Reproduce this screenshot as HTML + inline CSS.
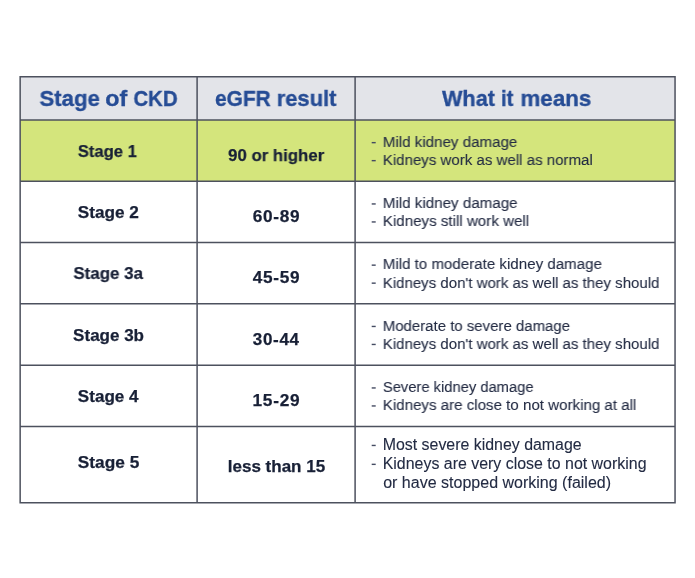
<!DOCTYPE html>
<html>
<head>
<meta charset="utf-8">
<title>Stages of CKD</title>
<style>
html,body{margin:0;padding:0;background:#fff;}
body{width:695px;height:578px;position:relative;overflow:hidden;font-family:"Liberation Sans",sans-serif;}
.t{position:absolute;}
.t{left:0;top:0;white-space:nowrap;line-height:1;transform-origin:0 0;will-change:transform;}
.h{font-size:22.6px;font-weight:bold;color:#264c95;-webkit-text-stroke:0.35px #264c95;}
.b{font-size:17px;font-weight:bold;color:#182036;-webkit-text-stroke:0.25px #182036;}
.r{font-size:15.2px;font-weight:normal;color:#232b43;-webkit-text-stroke:0.1px #232b43;}
.q{font-size:15.8px;font-weight:normal;color:#232b43;-webkit-text-stroke:0.1px #232b43;}
</style>
</head>
<body>
<svg width="695" height="578" viewBox="0 0 695 578" style="position:absolute;left:0;top:0;">
<rect x="20.15" y="76.70" width="654.90" height="43.30" fill="#e3e4e9"/>
<rect x="20.15" y="120.00" width="654.90" height="61.30" fill="#d4e57c"/>
<path d="M19.40 76.70H675.80M19.40 120.00H675.80M19.40 181.30H675.80M19.40 242.50H675.80M19.40 303.80H675.80M19.40 365.30H675.80M19.40 426.50H675.80M19.40 502.70H675.80M20.15 75.95V503.45M197.10 75.95V503.45M355.10 75.95V503.45M675.05 75.95V503.45" fill="none" stroke="#4d515e" stroke-width="1.5"/>
<rect x="371.70" y="141.95" width="4.00" height="1.4" fill="#444b62"/>
<rect x="371.70" y="159.95" width="4.00" height="1.4" fill="#444b62"/>
<rect x="371.70" y="203.25" width="4.00" height="1.4" fill="#444b62"/>
<rect x="371.70" y="221.25" width="4.00" height="1.4" fill="#444b62"/>
<rect x="371.70" y="264.45" width="4.00" height="1.4" fill="#444b62"/>
<rect x="371.70" y="282.45" width="4.00" height="1.4" fill="#444b62"/>
<rect x="371.70" y="325.75" width="4.00" height="1.4" fill="#444b62"/>
<rect x="371.70" y="343.75" width="4.00" height="1.4" fill="#444b62"/>
<rect x="371.70" y="387.25" width="4.00" height="1.4" fill="#444b62"/>
<rect x="371.70" y="405.25" width="4.00" height="1.4" fill="#444b62"/>
<rect x="371.70" y="444.75" width="4.00" height="1.4" fill="#444b62"/>
<rect x="371.70" y="463.65" width="4.00" height="1.4" fill="#444b62"/>
</svg>
<div class="t h" style="transform:translate(39.50px,88px) scaleX(0.9803);">Stage</div>
<div class="t h" style="transform:translate(105.28px,88px) scaleX(1.0296);">of</div>
<div class="t h" style="transform:translate(133.45px,88px) scaleX(0.9006);">CKD</div>
<div class="t h" style="transform:translate(215.08px,88px) scaleX(0.9216);">eGFR</div>
<div class="t h" style="transform:translate(276.80px,88px) scaleX(0.9680);">result</div>
<div class="t h" style="transform:translate(442.06px,88px) scaleX(0.9565);">What</div>
<div class="t h" style="transform:translate(501.04px,88px) scaleX(0.8924);">it</div>
<div class="t h" style="transform:translate(520.47px,88px) scaleX(0.9890);">means</div>
<div class="t b" style="transform:translate(77.83px,143px) scaleX(0.9759);">Stage 1</div>
<div class="t b" style="transform:translate(77.81px,204px) scaleX(1.0104);">Stage 2</div>
<div class="t b" style="transform:translate(73.42px,265px) scaleX(0.9951);">Stage 3a</div>
<div class="t b" style="transform:translate(73.12px,327px) scaleX(1.0005);">Stage 3b</div>
<div class="t b" style="transform:translate(77.81px,388px) scaleX(1.0053);">Stage 4</div>
<div class="t b" style="transform:translate(77.81px,454px) scaleX(1.0161);">Stage 5</div>
<div class="t b" style="transform:translate(228.07px,147px) scaleX(0.9881);">90 or higher</div>
<div class="t b" style="transform:translate(252.67px,208px) scaleX(1.0138);letter-spacing:0.7px;">60-89</div>
<div class="t b" style="transform:translate(252.74px,269px) scaleX(1.0123);letter-spacing:0.7px;">45-59</div>
<div class="t b" style="transform:translate(252.77px,331px) scaleX(1.0008);letter-spacing:0.7px;">30-44</div>
<div class="t b" style="transform:translate(252.53px,392px) scaleX(1.0168);letter-spacing:0.7px;">15-29</div>
<div class="t b" style="transform:translate(227.78px,458px) scaleX(1.0005);">less than 15</div>
<div class="t r" style="transform:translate(382.72px,134px) scaleX(0.9969);">Mild kidney damage</div>
<div class="t r" style="transform:translate(382.73px,152px) scaleX(0.9914);">Kidneys work as well as normal</div>
<div class="t r" style="transform:translate(382.72px,195px) scaleX(0.9984);">Mild kidney damage</div>
<div class="t r" style="transform:translate(382.72px,213px) scaleX(0.9972);">Kidneys still work well</div>
<div class="t r" style="transform:translate(382.73px,256px) scaleX(0.9945);">Mild to moderate kidney damage</div>
<div class="t r" style="transform:translate(382.73px,275px) scaleX(0.9889);">Kidneys don&#39;t work as well as they should</div>
<div class="t r" style="transform:translate(382.74px,318px) scaleX(0.9861);">Moderate to severe damage</div>
<div class="t r" style="transform:translate(382.73px,336px) scaleX(0.9889);">Kidneys don&#39;t work as well as they should</div>
<div class="t r" style="transform:translate(382.86px,379px) scaleX(0.9699);">Severe kidney damage</div>
<div class="t r" style="transform:translate(382.73px,397px) scaleX(0.9948);">Kidneys are close to not working at all</div>
<div class="t q" style="transform:translate(382.68px,437px) scaleX(1.0071);">Most severe kidney damage</div>
<div class="t q" style="transform:translate(382.68px,456px) scaleX(1.0083);">Kidneys are very close to not working</div>
<div class="t q" style="transform:translate(383.18px,475px) scaleX(1.0138);">or have stopped working (failed)</div>
</body>
</html>
